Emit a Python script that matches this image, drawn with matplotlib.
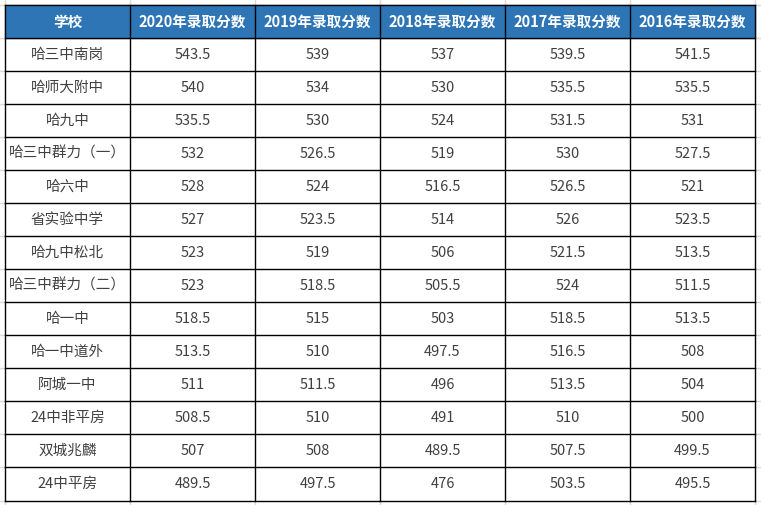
import matplotlib
matplotlib.use('Agg')
import matplotlib.pyplot as plt
from matplotlib.patches import Rectangle

plt.rcParams['font.family'] = ['Noto Sans CJK SC', 'DejaVu Sans']

schools = ['哈三中南岗', '哈师大附中', '哈九中', '哈三中群力（一）', '哈六中', '省实验中学',
           '哈九中松北', '哈三中群力（二）', '哈一中', '哈一中道外', '阿城一中',
           '24中非平房', '双城兆麟', '24中平房']
headers = ['学校', '2020年录取分数', '2019年录取分数', '2018年录取分数',
           '2017年录取分数', '2016年录取分数']
score_2020 = [543.5, 540, 535.5, 532, 528, 527, 523, 523, 518.5, 513.5, 511, 508.5, 507, 489.5]
score_2019 = [539, 534, 530, 526.5, 524, 523.5, 519, 518.5, 515, 510, 511.5, 510, 508, 497.5]
score_2018 = [537, 530, 524, 519, 516.5, 514, 506, 505.5, 503, 497.5, 496, 491, 489.5, 476]
score_2017 = [539.5, 535.5, 531.5, 530, 526.5, 526, 521.5, 524, 518.5, 516.5, 513.5, 510, 507.5, 503.5]
score_2016 = [541.5, 535.5, 531, 527.5, 521, 523.5, 513.5, 511.5, 513.5, 508, 504, 500, 499.5, 495.5]
columns = [score_2020, score_2019, score_2018, score_2017, score_2016]

W, H = 761, 505
fig = plt.figure(figsize=(W / 100, H / 100), dpi=100)
ax = fig.add_axes([0, 0, 1, 1])
ax.set_xlim(0, W)
ax.set_ylim(H, 0)
ax.axis('off')

# table geometry (pixels)
x0, x1 = 5, 755
ncol = len(headers)
cw = (x1 - x0) / ncol
xs = [x0 + i * cw for i in range(ncol + 1)]
y_top, y_head = 5, 38
rh = (500.5 - y_head) / len(schools)
ys = [y_head + i * rh for i in range(len(schools) + 1)]

# faint excel gridlines outside the table
grid = '#d9d9d9'
for x in xs:
    ax.plot([x, x], [0, y_top], color=grid, lw=1)
    ax.plot([x, x], [ys[-1], H], color=grid, lw=1)
for y in [y_head] + ys[1:]:
    ax.plot([0, x0], [y, y], color=grid, lw=1)
    ax.plot([x1, W], [y, y], color=grid, lw=1)
ax.plot([0, x0], [y_top, y_top], color=grid, lw=1)
ax.plot([x1, W], [y_top, y_top], color=grid, lw=1)

# header
ax.add_patch(Rectangle((x0, y_top), x1 - x0, y_head - y_top, color='#2E75B6', zorder=1))
for i, h in enumerate(headers):
    ax.text((xs[i] + xs[i + 1]) / 2, (y_top + y_head) / 2, h, color='white',
            fontsize=10.5, fontweight='bold', ha='center', va='center', zorder=3)

# body
txt = '#404040'
for r, name in enumerate(schools):
    yc = (ys[r] + ys[r + 1]) / 2
    ax.text((xs[0] + xs[1]) / 2, yc, name, color=txt, fontsize=10.5,
            ha='center', va='center')
    for c, col in enumerate(columns):
        ax.text((xs[c + 1] + xs[c + 2]) / 2, yc, f'{col[r]:g}', color=txt,
                fontsize=10.5, ha='center', va='center')

# borders
for x in xs:
    ax.plot([x, x], [y_top, ys[-1]], color='black', lw=1.0, zorder=4)
for y in [y_top] + ys:
    ax.plot([x0, x1], [y, y], color='black', lw=1.0, zorder=4)

fig.savefig('out.png', dpi=100)
